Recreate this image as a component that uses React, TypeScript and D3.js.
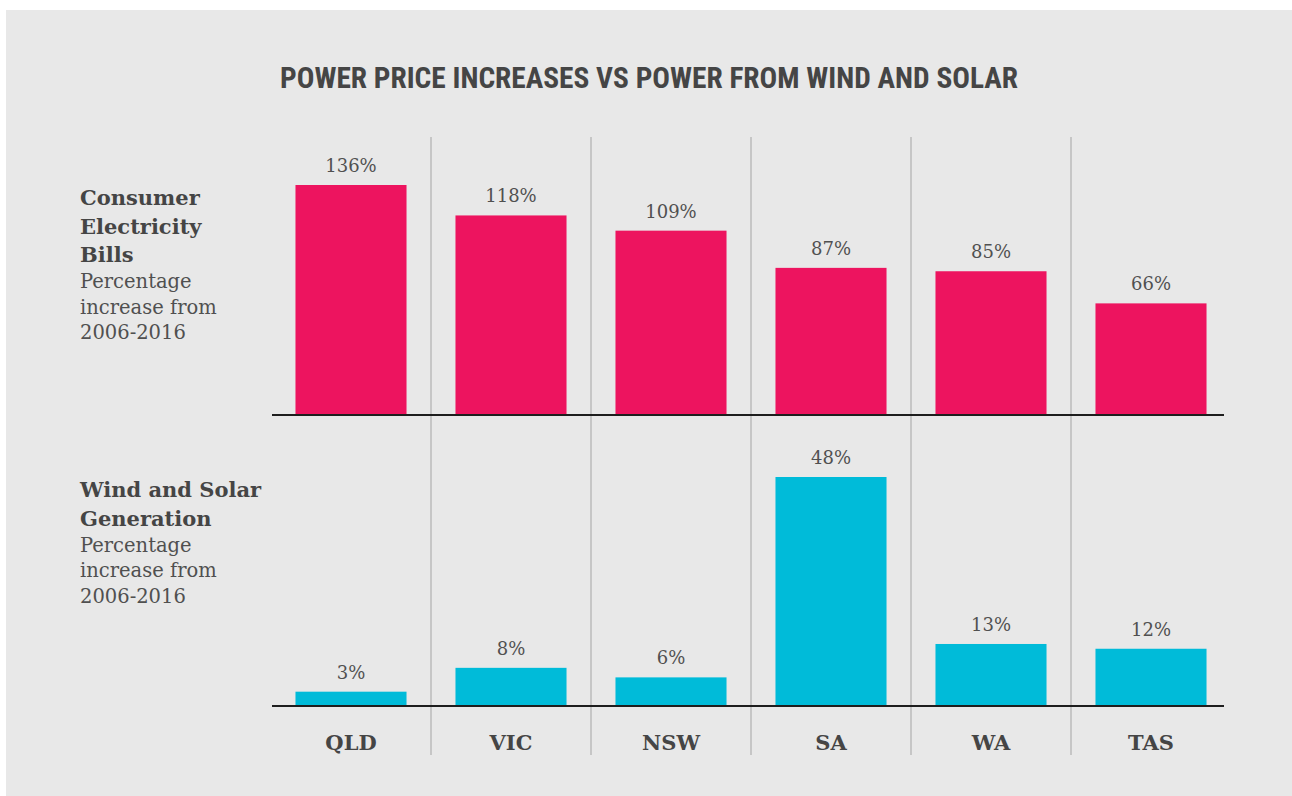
import { useEffect, useRef } from "react";
import * as d3 from "d3";

// chart values
const states = ["QLD", "VIC", "NSW", "SA", "WA", "TAS"];
const billIncrease = [136, 118, 109, 87, 85, 66];
const windSolarIncrease = [3, 8, 6, 48, 13, 12];

const titleText = "POWER PRICE INCREASES VS POWER FROM WIND AND SOLAR";
const topLabelBold = ["Consumer", "Electricity", "Bills"];
const bottomLabelBold = ["Wind and Solar", "Generation"];
const subLabel = ["Percentage", "increase from", "2006-2016"];

const App = () => {
  const svgRef = useRef<SVGSVGElement | null>(null);

  const width = 1292;
  const height = 796;

  useEffect(() => {
    if (!svgRef.current) return;
    const svg = d3.select(svgRef.current);
    svg.selectAll("*").remove();

    const bg = "#e8e8e8";
    const textColor = "#454545";
    const pink = "#ed145f";
    const cyan = "#00bbd9";
    const slab = "'DejaVu Serif', serif";

    // panel background
    svg.append("rect")
      .attr("x", 6)
      .attr("y", 10)
      .attr("width", width - 6)
      .attr("height", height - 10)
      .attr("fill", bg);

    // title
    svg.append("text")
      .attr("x", 280)
      .attr("y", 88)
      .attr("textLength", 738)
      .attr("lengthAdjust", "spacingAndGlyphs")
      .attr("font-family", "'Roboto Condensed', 'Liberation Sans Narrow', Roboto, sans-serif")
      .attr("font-weight", 700)
      .attr("font-size", 29)
      .attr("fill", textColor)
      .text(titleText);

    const x = d3.scaleBand<string>()
      .domain(states)
      .range([271, 1231])
      .paddingInner(0.306)
      .paddingOuter(0.153);

    const step = x.step();
    const colStart = (s: string) => (x(s) as number) - x.paddingInner() * step / 2;

    // column separators
    svg.append("g")
      .selectAll("line")
      .data(states.slice(1))
      .join("line")
      .attr("x1", (d) => colStart(d))
      .attr("x2", (d) => colStart(d))
      .attr("y1", 137)
      .attr("y2", 755)
      .attr("stroke", "#c6c6c6")
      .attr("stroke-width", 2);

    const yTop = d3.scaleLinear().domain([0, 136]).range([415, 185]);
    const yBottom = d3.scaleLinear().domain([0, 48]).range([706, 477]);

    const drawPanel = (values: number[], y: d3.ScaleLinear<number, number>, color: string) => {
      const g = svg.append("g");
      g.selectAll("rect")
        .data(values)
        .join("rect")
        .attr("x", (_, i) => x(states[i]) as number)
        .attr("y", (d) => y(d))
        .attr("width", x.bandwidth())
        .attr("height", (d) => y(0) - y(d))
        .attr("fill", color);

      g.selectAll("text")
        .data(values)
        .join("text")
        .attr("x", (_, i) => (x(states[i]) as number) + x.bandwidth() / 2)
        .attr("y", (d) => y(d) - 13)
        .attr("text-anchor", "middle")
        .attr("font-family", slab)
        .attr("font-size", 18)
        .attr("fill", "#505050")
        .text((d) => `${d}%`);

      g.append("line")
        .attr("x1", 272)
        .attr("x2", 1224)
        .attr("y1", y(0))
        .attr("y2", y(0))
        .attr("stroke", "#1e1e1e")
        .attr("stroke-width", 2);
    };

    drawPanel(billIncrease, yTop, pink);
    drawPanel(windSolarIncrease, yBottom, cyan);

    // category labels
    svg.append("g")
      .selectAll("text")
      .data(states)
      .join("text")
      .attr("x", (d) => (x(d) as number) + x.bandwidth() / 2)
      .attr("y", 750)
      .attr("text-anchor", "middle")
      .attr("font-family", slab)
      .attr("font-weight", 700)
      .attr("font-size", 21)
      .attr("fill", textColor)
      .text((d) => d);

    // left side labels
    const sideLabel = (bold: string[], top: number) => {
      const g = svg.append("g").attr("font-family", slab).attr("fill", textColor);
      bold.forEach((t, i) => {
        g.append("text")
          .attr("x", 80)
          .attr("y", top + i * 28.5)
          .attr("font-weight", 700)
          .attr("font-size", 21)
          .text(t);
      });
      const subTop = top + (bold.length - 1) * 28.5 + 26;
      subLabel.forEach((t, i) => {
        g.append("text")
          .attr("x", 80)
          .attr("y", subTop + i * 25.5)
          .attr("font-size", 19.5)
          .attr("fill", "#505050")
          .text(t);
      });
    };

    sideLabel(topLabelBold, 205);
    sideLabel(bottomLabelBold, 497);
  }, []);

  return (
    <div style={{ position: "absolute", left: 0, top: 0, width: `${width}px`, height: `${height}px`, background: "#fff" }}>
      <svg ref={svgRef} width={width} height={height} viewBox={`0 0 ${width} ${height}`} />
    </div>
  );
};

export default App;
